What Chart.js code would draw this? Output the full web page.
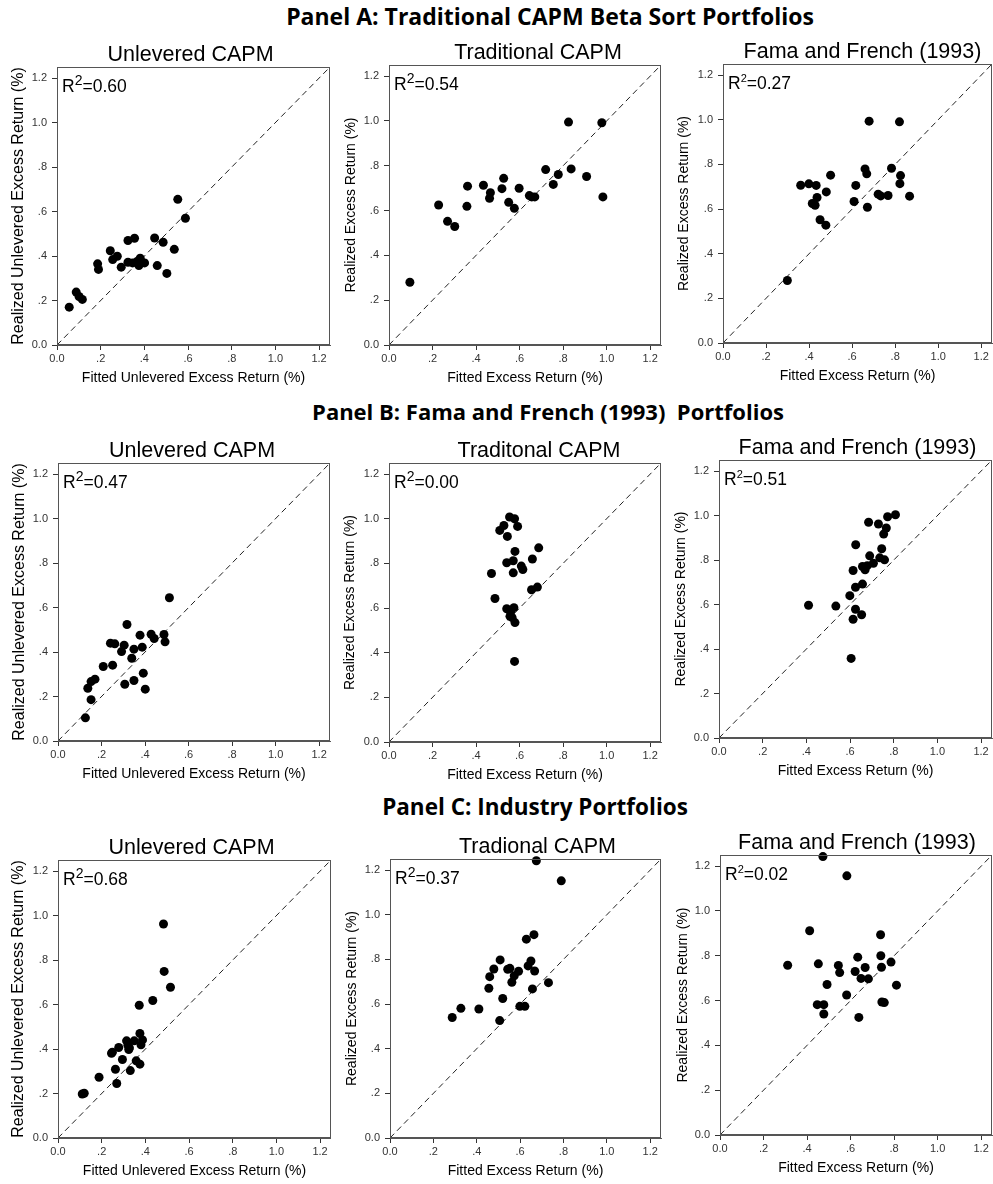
<!DOCTYPE html>
<html>
<head>
<meta charset="utf-8">
<script src="https://cdn.jsdelivr.net/npm/chart.js@4.4.1/dist/chart.umd.min.js"></script>
<style>
  body { margin: 0; background: #fff; width: 993px; height: 1184px; position: relative; overflow: hidden; }
  .panel { position: absolute; transform: translateX(-50%); white-space: nowrap;
           font-family: "Open Sans", sans-serif; font-weight: 700; line-height: 1; color: #000; }
  .box { position: absolute; }
</style>
</head>
<body>
<div class="panel" style="left:550px;top:5px;font-size:23px">Panel A: Traditional CAPM Beta Sort Portfolios</div>
<div class="panel" style="left:548px;top:400px;font-size:22px">Panel B: Fama and French (1993)&nbsp; Portfolios</div>
<div class="panel" style="left:535px;top:796px;font-size:22.5px">Panel C: Industry Portfolios</div>
<div id="charts"></div>

<script>
const tickLabels = ['0.0', '.2', '.4', '.6', '.8', '1.0', '1.2'];
const r2Labels = ['0.60', '0.54', '0.27', '0.47', '0.00', '0.51', '0.68', '0.37', '0.02'];

// Panel A: traditional CAPM beta sort portfolios
const aUnlevX = [0.056,0.088,0.101,0.116,0.186,0.19,0.244,0.255,0.276,0.294,0.325,0.325,0.355,0.346,0.366,0.375,0.381,0.401,0.447,0.459,0.486,0.503,0.537,0.553,0.588];
const aUnlevY = [0.170,0.238,0.218,0.205,0.365,0.34,0.424,0.384,0.399,0.35,0.47,0.372,0.48,0.369,0.375,0.357,0.39,0.369,0.481,0.357,0.462,0.322,0.43,0.655,0.57];
const aCapmX = [0.096,0.228,0.269,0.302,0.358,0.361,0.434,0.462,0.466,0.519,0.527,0.550,0.576,0.598,0.645,0.656,0.670,0.720,0.755,0.778,0.825,0.837,0.908,0.978,0.983];
const aCapmY = [0.28,0.625,0.552,0.529,0.619,0.709,0.713,0.655,0.68,0.698,0.744,0.637,0.61,0.70,0.667,0.661,0.661,0.783,0.717,0.761,0.995,0.786,0.752,0.992,0.661];
const aFfX = [0.299,0.361,0.399,0.415,0.428,0.433,0.437,0.451,0.48,0.478,0.50,0.609,0.617,0.66,0.668,0.671,0.679,0.721,0.733,0.767,0.783,0.82,0.825,0.822,0.867];
const aFfY = [0.28,0.707,0.713,0.625,0.617,0.706,0.652,0.552,0.677,0.528,0.752,0.634,0.706,0.78,0.758,0.608,0.994,0.667,0.659,0.661,0.783,0.991,0.75,0.714,0.658];

// Panel B: Fama and French (1993) portfolios
const bUnlevX = [0.126,0.137,0.152,0.152,0.17,0.208,0.251,0.241,0.261,0.292,0.304,0.307,0.317,0.339,0.349,0.349,0.377,0.387,0.392,0.401,0.428,0.442,0.487,0.492,0.512];
const bUnlevY = [0.104,0.237,0.186,0.267,0.278,0.335,0.341,0.44,0.437,0.402,0.431,0.255,0.524,0.372,0.413,0.272,0.476,0.422,0.305,0.233,0.48,0.461,0.479,0.446,0.644];
const bCapmX = [0.554,0.577,0.528,0.509,0.591,0.544,0.579,0.688,0.541,0.571,0.659,0.608,0.615,0.571,0.471,0.682,0.655,0.487,0.541,0.574,0.559,0.556,0.566,0.579,0.577];
const bCapmY = [1.008,1.0,0.970,0.948,0.966,0.921,0.854,0.870,0.803,0.812,0.820,0.788,0.773,0.758,0.755,0.694,0.682,0.643,0.597,0.602,0.582,0.563,0.557,0.535,0.361];
const bFfX = [0.808,0.772,0.685,0.730,0.766,0.754,0.626,0.745,0.690,0.736,0.758,0.707,0.657,0.679,0.669,0.614,0.657,0.625,0.599,0.410,0.535,0.625,0.653,0.614,0.605];
const bFfY = [1.004,0.995,0.970,0.962,0.944,0.917,0.869,0.851,0.819,0.810,0.801,0.786,0.771,0.775,0.756,0.753,0.692,0.678,0.640,0.597,0.593,0.579,0.554,0.534,0.358];

// Panel C: industry portfolios
const cUnlevX = [0.483,0.486,0.515,0.372,0.434,0.375,0.314,0.349,0.387,0.320,0.380,0.278,0.324,0.249,0.245,0.295,0.358,0.375,0.263,0.331,0.188,0.269,0.111,0.120,0.327];
const cUnlevY = [0.962,0.749,0.678,0.597,0.618,0.470,0.437,0.437,0.441,0.417,0.419,0.407,0.398,0.386,0.381,0.353,0.347,0.332,0.309,0.303,0.273,0.245,0.198,0.201,0.405];
const cCapmX = [0.287,0.327,0.41,0.456,0.46,0.479,0.508,0.506,0.52,0.543,0.553,0.562,0.573,0.593,0.599,0.622,0.629,0.637,0.65,0.664,0.667,0.657,0.675,0.731,0.79];
const cCapmY = [0.54,0.581,0.578,0.671,0.723,0.757,0.798,0.526,0.625,0.756,0.76,0.698,0.727,0.747,0.59,0.59,0.891,0.771,0.793,0.911,0.748,0.668,1.242,0.696,1.152];
const cFfX = [0.311,0.412,0.447,0.452,0.473,0.477,0.477,0.492,0.544,0.55,0.582,0.583,0.621,0.633,0.638,0.648,0.667,0.682,0.738,0.739,0.742,0.744,0.755,0.786,0.811];
const cFfY = [0.758,0.912,0.582,0.764,1.243,0.582,0.54,0.672,0.757,0.725,0.625,1.157,0.73,0.794,0.525,0.699,0.748,0.697,0.894,0.8,0.749,0.594,0.591,0.772,0.669];

const FONT = '"Liberation Sans", Arial, sans-serif';
const unlevXTitle = 'Fitted Unlevered Excess Return (%)';
const unlevYTitle = 'Realized Unlevered Excess Return (%)';
const xTitle = 'Fitted Excess Return (%)';
const yTitle = 'Realized Excess Return (%)';

// col = canvas left, L/T/R/B = plot box on the page, sup = size of the "2" in R2
const plots = [
  {title:'Unlevered CAPM', xs:aUnlevX, ys:aUnlevY, r2:r2Labels[0], col:0,   L:57,  T:67,  R:330, B:345, xt:unlevXTitle, yt:unlevYTitle, ys16:true, yPad:9,  shift:-3, sup:14},
  {title:'Traditional CAPM', xs:aCapmX, ys:aCapmY, r2:r2Labels[1], col:331, L:389, T:65,  R:661, B:345, xt:xTitle, yt:yTitle, yPad:12, shift:13, sup:14},
  {title:'Fama and French (1993)', xs:aFfX, ys:aFfY, r2:r2Labels[2], col:662, L:723, T:64, R:992, B:343, xt:xTitle, yt:yTitle, yPad:14, shift:5, sup:11},
  {title:'Unlevered CAPM', xs:bUnlevX, ys:bUnlevY, r2:r2Labels[3], col:0,   L:58,  T:463, R:330, B:741, xt:unlevXTitle, yt:unlevYTitle, ys16:true, yPad:10, shift:-2, sup:14},
  {title:'Traditonal CAPM', xs:bCapmX, ys:bCapmY, r2:r2Labels[4], col:331, L:389, T:463, R:661, B:742, xt:xTitle, yt:yTitle, yPad:11, shift:14, sup:14},
  {title:'Fama and French (1993)', xs:bFfX, ys:bFfY, r2:r2Labels[5], col:662, L:719, T:460, R:992, B:738, xt:xTitle, yt:yTitle, yPad:11, shift:2, sup:11},
  {title:'Unlevered CAPM', xs:cUnlevX, ys:cUnlevY, r2:r2Labels[6], col:0,   L:58,  T:860, R:331, B:1138, xt:unlevXTitle, yt:unlevYTitle, ys16:true, yPad:9, shift:-3, sup:14},
  {title:'Tradional CAPM', xs:cCapmX, ys:cCapmY, r2:r2Labels[7], col:331, L:390, T:859, R:661, B:1138, xt:xTitle, yt:yTitle, yPad:13, shift:12, sup:14},
  {title:'Fama and French (1993)', xs:cFfX, ys:cFfY, r2:r2Labels[8], col:662, L:720, T:855, R:992, B:1135, xt:xTitle, yt:yTitle, yPad:13, shift:1, sup:11}
];

// box around plot, subplot title and the R2 note
const framePlugin = {
  id: 'frame',
  afterDraw(chart, args, o) {
    const {ctx, chartArea: a} = chart;
    ctx.save();
    ctx.strokeStyle = '#555';
    ctx.lineWidth = 1;
    ctx.strokeRect(a.left + 0.5, a.top + 0.5, a.width - 1, a.height - 1);

    ctx.fillStyle = '#000';
    ctx.textAlign = 'center';
    ctx.textBaseline = 'alphabetic';
    ctx.font = '21.5px ' + FONT;
    ctx.fillText(o.title, (a.left + a.right) / 2 + o.shift, a.top - 6);

    ctx.textAlign = 'left';
    let x = a.left + 5, y = a.top + 25;
    ctx.font = '17.5px ' + FONT;
    ctx.fillText('R', x, y);
    x += ctx.measureText('R').width;
    ctx.font = o.sup + 'px ' + FONT;
    ctx.fillText('2', x, y - 7);
    x += ctx.measureText('2').width;
    ctx.font = '17.5px ' + FONT;
    ctx.fillText('=' + o.r2, x, y);
    ctx.restore();
  }
};

const holder = document.getElementById('charts');

plots.forEach(p => {
  const top = p.T - 30;
  const w = 331;
  const h = p.B - p.T + 72;
  const div = document.createElement('div');
  div.className = 'box';
  div.style.left = p.col + 'px';
  div.style.top = top + 'px';
  const cv = document.createElement('canvas');
  cv.width = w; cv.height = h;
  div.appendChild(cv);
  holder.appendChild(div);

  const tickOpts = {
    stepSize: 0.2, includeBounds: false, autoSkip: false, maxRotation: 0,
    color: '#333', font: {family: FONT, size: 11},
    callback: (v, i) => tickLabels[i]
  };

  new Chart(cv, {
    data: {
      datasets: [
        {
          type: 'scatter',
          data: p.xs.map((x, i) => ({x: x, y: p.ys[i]})),
          pointRadius: 4.5,
          pointBackgroundColor: '#000',
          pointBorderWidth: 0,
          clip: false
        },
        {
          type: 'line',
          data: [{x: 0, y: 0}, {x: 1.25, y: 1.25}],
          borderColor: '#222',
          borderWidth: 1,
          borderDash: [6, 4],
          pointRadius: 0
        }
      ]
    },
    options: {
      responsive: false,
      animation: false,
      devicePixelRatio: 1,
      events: [],
      layout: {autoPadding: false, padding: {top: 30, left: 0, right: w - (p.R - p.col), bottom: 0}},
      plugins: {
        legend: {display: false},
        tooltip: {enabled: false},
        frame: {title: p.title, r2: p.r2, shift: p.shift, sup: p.sup}
      },
      scales: {
        x: {
          type: 'linear', position: 'bottom', min: 0, max: 1.25,
          afterFit: s => { s.height = 42; },
          ticks: Object.assign({}, tickOpts, {padding: 2}),
          grid: {drawOnChartArea: false, drawTicks: true, tickLength: 5, color: '#333'},
          border: {display: true, color: '#555'},
          title: {display: true, text: p.xt, color: '#000', font: {family: FONT, size: 14}, padding: {top: 0, bottom: 0}}
        },
        y: {
          type: 'linear', position: 'left', min: 0, max: 1.25,
          afterFit: s => { s.width = p.L - p.col; },
          ticks: Object.assign({}, tickOpts, {padding: 5}),
          grid: {drawOnChartArea: false, drawTicks: true, tickLength: 5, color: '#333'},
          border: {display: true, color: '#555'},
          title: {display: true, text: p.yt, color: '#000', font: {family: FONT, size: p.ys16 ? 16 : 14}, padding: {top: p.yPad, bottom: 0}}
        }
      }
    },
    plugins: [framePlugin]
  });
});
</script>
</body>
</html>
